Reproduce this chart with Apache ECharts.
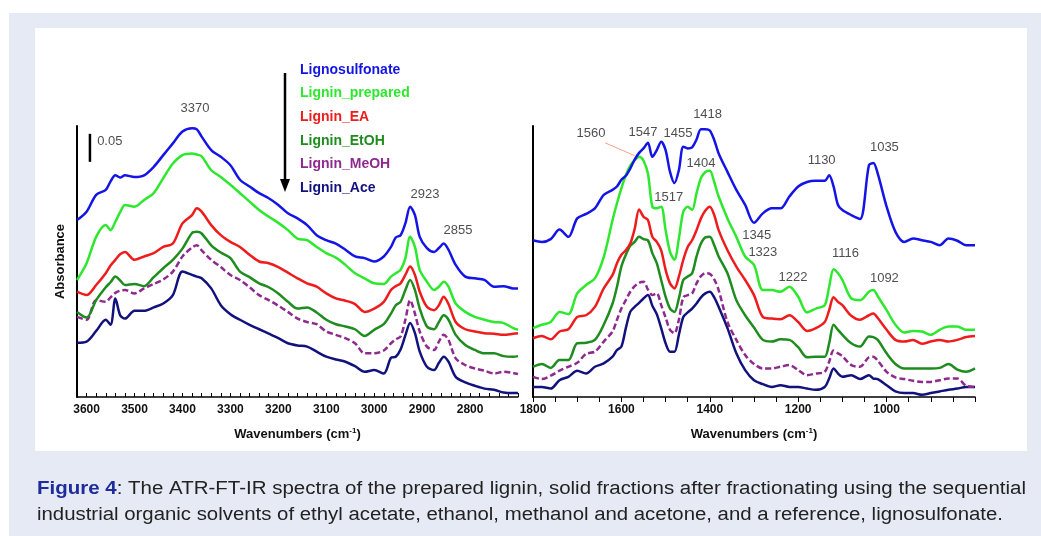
<!DOCTYPE html>
<html>
<head>
<meta charset="utf-8">
<script src="https://cdn.jsdelivr.net/npm/echarts@6.0.0/dist/echarts.min.js"></script>
<style>
  html, body { margin: 0; padding: 0; background: #fff; }
  #frame { position: absolute; left: 9px; top: 13px; width: 1032px; height: 523px; background: #e6eaf5; }
  #panel { position: absolute; left: 35px; top: 28px; width: 992px; height: 423px; background: #fff; }
  #chart { position: absolute; left: 0; top: 0; width: 1041px; height: 536px; }
</style>
</head>
<body>
<div id="frame"></div>
<div id="panel"></div>
<div id="chart"></div>
<script>
// samples, in the order of the key (top to bottom)
const sampleNames = ['Lignosulfonate', 'Lignin_prepared', 'Lignin_EA', 'Lignin_EtOH', 'Lignin_MeOH', 'Lignin_Ace'];
const sampleColors = ['#1414e6', '#2ee82e', '#ee1c1c', '#1e8c1e', '#8e2a8e', '#12127e'];

// O-H / C-H region, wavenumbers (cm-1)
const leftWn = [3620, 3600, 3580, 3560, 3550, 3540, 3530, 3520, 3500, 3480, 3460, 3440, 3420, 3400, 3380, 3370, 3360,
  3340, 3320, 3300, 3280, 3260, 3240, 3220, 3200, 3180, 3160, 3140, 3120, 3100, 3080, 3060, 3040, 3020, 3000,
  2980, 2965, 2955, 2945, 2935, 2925, 2915, 2905, 2890, 2875, 2865, 2855, 2845, 2830, 2810, 2790, 2770, 2750, 2730, 2710, 2700];
const leftLignosulfonate = [0.316, 0.331, 0.361, 0.370, 0.385, 0.396, 0.392, 0.396, 0.393, 0.396, 0.411, 0.432, 0.453, 0.474, 0.480, 0.478, 0.465,
  0.441, 0.429, 0.414, 0.388, 0.376, 0.364, 0.355, 0.343, 0.328, 0.319, 0.307, 0.289, 0.280, 0.274, 0.263, 0.251, 0.248, 0.242,
  0.251, 0.268, 0.285, 0.289, 0.310, 0.340, 0.325, 0.286, 0.266, 0.259, 0.266, 0.274, 0.263, 0.236, 0.215, 0.212, 0.209, 0.197, 0.198, 0.194, 0.194];
const leftPrepared = [0.209, 0.239, 0.286, 0.307, 0.298, 0.313, 0.330, 0.343, 0.340, 0.352, 0.364, 0.391, 0.417, 0.432, 0.435, 0.433, 0.430,
  0.405, 0.393, 0.379, 0.364, 0.349, 0.334, 0.322, 0.311, 0.298, 0.283, 0.280, 0.268, 0.257, 0.249, 0.236, 0.221, 0.212, 0.203,
  0.202, 0.215, 0.221, 0.227, 0.248, 0.286, 0.268, 0.227, 0.206, 0.191, 0.197, 0.206, 0.197, 0.167, 0.152, 0.143, 0.138, 0.134, 0.132, 0.123, 0.120];
const leftEA = [0.188, 0.182, 0.200, 0.221, 0.235, 0.245, 0.255, 0.259, 0.245, 0.251, 0.257, 0.268, 0.274, 0.310, 0.325, 0.337, 0.331,
  0.307, 0.289, 0.277, 0.268, 0.254, 0.242, 0.239, 0.232, 0.222, 0.212, 0.203, 0.197, 0.185, 0.176, 0.172, 0.166, 0.152, 0.158,
  0.170, 0.191, 0.198, 0.203, 0.218, 0.233, 0.218, 0.188, 0.161, 0.155, 0.164, 0.179, 0.166, 0.134, 0.121, 0.117, 0.114, 0.113, 0.111, 0.113, 0.114];
const leftEtOH = [0.152, 0.142, 0.173, 0.196, 0.205, 0.215, 0.208, 0.200, 0.202, 0.198, 0.214, 0.230, 0.245, 0.265, 0.293, 0.295, 0.292,
  0.271, 0.258, 0.248, 0.224, 0.214, 0.203, 0.196, 0.185, 0.170, 0.158, 0.160, 0.151, 0.138, 0.130, 0.126, 0.121, 0.109, 0.120,
  0.130, 0.149, 0.164, 0.170, 0.191, 0.209, 0.191, 0.158, 0.126, 0.121, 0.134, 0.146, 0.138, 0.111, 0.093, 0.084, 0.078, 0.078, 0.073, 0.072, 0.073];
const leftMeOH = [0.143, 0.138, 0.173, 0.170, 0.178, 0.186, 0.190, 0.191, 0.185, 0.194, 0.202, 0.210, 0.224, 0.251, 0.267, 0.271, 0.262,
  0.245, 0.232, 0.218, 0.209, 0.196, 0.182, 0.173, 0.163, 0.152, 0.140, 0.134, 0.130, 0.117, 0.111, 0.105, 0.096, 0.078, 0.078,
  0.083, 0.096, 0.103, 0.108, 0.138, 0.173, 0.149, 0.117, 0.090, 0.084, 0.099, 0.111, 0.102, 0.069, 0.057, 0.051, 0.047, 0.042, 0.045, 0.043, 0.041];
const leftAce = [0.097, 0.099, 0.118, 0.138, 0.129, 0.176, 0.146, 0.140, 0.154, 0.154, 0.160, 0.167, 0.182, 0.224, 0.218, 0.215, 0.212,
  0.194, 0.164, 0.148, 0.138, 0.129, 0.121, 0.113, 0.105, 0.096, 0.092, 0.090, 0.081, 0.072, 0.067, 0.063, 0.055, 0.045, 0.048,
  0.042, 0.070, 0.072, 0.085, 0.110, 0.132, 0.114, 0.081, 0.054, 0.048, 0.061, 0.072, 0.063, 0.036, 0.026, 0.020, 0.015, 0.013, 0.008, 0.007, 0.007];

// fingerprint region, wavenumbers (cm-1)
const rightWn = [1800, 1780, 1760, 1740, 1720, 1700, 1680, 1660, 1640, 1620, 1610, 1600, 1590, 1580, 1570, 1560, 1550, 1540, 1530, 1520,
  1510, 1500, 1490, 1480, 1470, 1460, 1450, 1440, 1430, 1420, 1410, 1400, 1390, 1380, 1360, 1340, 1320, 1300, 1280, 1260,
  1240, 1220, 1200, 1180, 1160, 1140, 1130, 1120, 1110, 1100, 1080, 1060, 1040, 1030, 1020, 1000, 980, 960, 940, 920,
  900, 880, 860, 840, 820, 800];
const rightLignosulfonate = [0.280, 0.277, 0.282, 0.299, 0.286, 0.319, 0.327, 0.337, 0.361, 0.370, 0.376, 0.388, 0.395, 0.408, 0.424, 0.436, 0.444, 0.454, 0.429, 0.441,
  0.456, 0.441, 0.402, 0.382, 0.405, 0.447, 0.444, 0.446, 0.460, 0.478, 0.478, 0.476, 0.459, 0.435, 0.402, 0.370, 0.343, 0.311, 0.328, 0.337,
  0.337, 0.358, 0.376, 0.384, 0.386, 0.386, 0.396, 0.376, 0.343, 0.334, 0.325, 0.318, 0.414, 0.418, 0.399, 0.340, 0.295, 0.277, 0.283, 0.280,
  0.277, 0.271, 0.283, 0.279, 0.271, 0.271];
const rightPrepared = [0.123, 0.129, 0.134, 0.152, 0.148, 0.185, 0.200, 0.212, 0.250, 0.316, 0.346, 0.373, 0.396, 0.413, 0.423, 0.429, 0.422, 0.399, 0.340, 0.337,
  0.340, 0.298, 0.259, 0.245, 0.283, 0.331, 0.340, 0.334, 0.364, 0.391, 0.402, 0.404, 0.384, 0.358, 0.319, 0.286, 0.251, 0.236, 0.191, 0.191,
  0.188, 0.197, 0.179, 0.151, 0.158, 0.164, 0.197, 0.228, 0.221, 0.209, 0.176, 0.173, 0.188, 0.191, 0.180, 0.155, 0.129, 0.115, 0.118, 0.117,
  0.111, 0.120, 0.126, 0.126, 0.120, 0.120];
const rightEA = [0.105, 0.109, 0.103, 0.117, 0.121, 0.143, 0.146, 0.161, 0.194, 0.218, 0.239, 0.254, 0.262, 0.274, 0.300, 0.335, 0.322, 0.316, 0.286, 0.277,
  0.262, 0.227, 0.203, 0.194, 0.215, 0.245, 0.268, 0.280, 0.298, 0.319, 0.333, 0.340, 0.325, 0.298, 0.262, 0.233, 0.209, 0.182, 0.143, 0.140,
  0.139, 0.146, 0.134, 0.118, 0.123, 0.134, 0.155, 0.178, 0.170, 0.164, 0.145, 0.138, 0.146, 0.149, 0.141, 0.120, 0.102, 0.099, 0.102, 0.095,
  0.099, 0.102, 0.099, 0.102, 0.107, 0.109];
const rightEtOH = [0.054, 0.059, 0.052, 0.066, 0.066, 0.096, 0.097, 0.102, 0.129, 0.167, 0.197, 0.233, 0.254, 0.270, 0.277, 0.286, 0.282, 0.280, 0.257, 0.239,
  0.209, 0.179, 0.158, 0.152, 0.176, 0.209, 0.215, 0.221, 0.251, 0.274, 0.285, 0.286, 0.271, 0.251, 0.221, 0.173, 0.146, 0.124, 0.102, 0.099,
  0.103, 0.102, 0.089, 0.071, 0.072, 0.072, 0.096, 0.129, 0.120, 0.111, 0.096, 0.090, 0.108, 0.107, 0.102, 0.078, 0.059, 0.051, 0.051, 0.051,
  0.051, 0.052, 0.059, 0.049, 0.045, 0.051];
const rightMeOH = [0.036, 0.032, 0.038, 0.047, 0.054, 0.061, 0.077, 0.081, 0.099, 0.117, 0.138, 0.158, 0.173, 0.188, 0.198, 0.204, 0.206, 0.192, 0.182, 0.185,
  0.164, 0.142, 0.120, 0.114, 0.138, 0.178, 0.182, 0.185, 0.203, 0.216, 0.221, 0.220, 0.210, 0.191, 0.134, 0.102, 0.075, 0.059, 0.051, 0.051,
  0.054, 0.057, 0.048, 0.039, 0.042, 0.045, 0.063, 0.083, 0.078, 0.073, 0.057, 0.054, 0.071, 0.072, 0.065, 0.045, 0.035, 0.032, 0.029, 0.027,
  0.027, 0.030, 0.033, 0.033, 0.020, 0.018];
const rightAce = [0.018, 0.018, 0.015, 0.030, 0.036, 0.047, 0.042, 0.054, 0.060, 0.072, 0.084, 0.090, 0.123, 0.152, 0.161, 0.168, 0.176, 0.182, 0.163, 0.148,
  0.123, 0.096, 0.081, 0.081, 0.111, 0.143, 0.151, 0.158, 0.167, 0.178, 0.185, 0.188, 0.178, 0.161, 0.123, 0.078, 0.048, 0.030, 0.023, 0.018,
  0.021, 0.018, 0.018, 0.015, 0.013, 0.018, 0.033, 0.051, 0.042, 0.036, 0.039, 0.032, 0.039, 0.033, 0.032, 0.021, 0.010, 0.007, 0.007, 0.004,
  0.007, 0.010, 0.013, 0.015, 0.018, 0.018];

// peak labels (text, wavenumber, absorbance where the text sits)
const leftPeakText = ['3370', '2923', '2855'];
const leftPeakWn = [3374, 2894, 2825];
const leftPeakAbs = [0.516, 0.361, 0.298];
const rightPeakText = ['1560', '1547', '1455', '1418', '1404', '1517', '1130', '1035', '1345', '1323', '1116', '1222', '1092'];
const rightPeakWn = [1669, 1551, 1472, 1405, 1420, 1493, 1147, 1005, 1294, 1280, 1093, 1212, 1005];
const rightPeakAbs = [0.471, 0.473, 0.471, 0.505, 0.418, 0.357, 0.423, 0.445, 0.289, 0.259, 0.257, 0.214, 0.211];
// 1560 leader line, and the 0.05 scale bar
const leaderWn = [1637, 1570];
const leaderAbs = [0.454, 0.431];
const scaleBarWn = [3593, 3593];
const scaleBarAbs = [0.470, 0.420];

const captionLead = 'Figure 4';
const captionLine1 = ': The ATR-FT-IR spectra of the prepared lignin, solid fractions after fractionating using the sequential';
const captionLine2 = 'industrial organic solvents of ethyl acetate, ethanol, methanol and acetone, and a reference, lignosulfonate.';

const FONT = 'Liberation Sans';
const leftData = [leftLignosulfonate, leftPrepared, leftEA, leftEtOH, leftMeOH, leftAce];
const rightData = [rightLignosulfonate, rightPrepared, rightEA, rightEtOH, rightMeOH, rightAce];

function pairs(xs, ys) {
  return xs.map((x, i) => [x, ys[i]]);
}

const series = [];
sampleNames.forEach((name, k) => {
  [[leftWn, leftData[k], 0], [rightWn, rightData[k], 1]].forEach(([wn, vals, gi]) => {
    series.push({
      name: name,
      type: 'line',
      xAxisIndex: gi,
      yAxisIndex: gi,
      data: pairs(wn, vals),
      symbol: 'none',
      smooth: 0.3,
      silent: true,
      z: 10 - k,
      itemStyle: { color: sampleColors[k] },
      lineStyle: { color: sampleColors[k], width: 2.5, type: name === 'Lignin_MeOH' ? [6, 3] : 'solid' }
    });
  });
});

function labelSeries(gi, texts, wn, abs, align) {
  return {
    type: 'scatter',
    xAxisIndex: gi,
    yAxisIndex: gi,
    symbolSize: 1,
    clip: false,
    silent: true,
    itemStyle: { color: 'rgba(0,0,0,0)' },
    data: texts.map((t, i) => ({ name: t, value: [wn[i], abs[i]] })),
    label: { show: true, position: 'inside', align: align || 'center', formatter: '{b}', color: '#222', fontSize: 13, fontFamily: FONT }
  };
}
series.push(labelSeries(0, leftPeakText, leftPeakWn, leftPeakAbs));
series.push(labelSeries(1, rightPeakText, rightPeakWn, rightPeakAbs));
series.push(labelSeries(0, ['0.05'], [3578], [0.457], 'left'));
series.push({
  type: 'line', xAxisIndex: 1, yAxisIndex: 1, symbol: 'none', silent: true, clip: false,
  data: pairs(leaderWn, leaderAbs), lineStyle: { color: '#f2a488', width: 1 }
});
series.push({
  type: 'line', xAxisIndex: 0, yAxisIndex: 0, symbol: 'none', silent: true, clip: false,
  data: pairs(scaleBarWn, scaleBarAbs), lineStyle: { color: '#000', width: 2.5 }
});

const axisName = '{t|Wavenumbers (cm}{s|-1}{t|)}';
const axisNameStyle = {
  rich: {
    t: { fontFamily: FONT, fontWeight: 'bold', fontSize: 13, color: '#111' },
    s: { fontFamily: FONT, fontWeight: 'bold', fontSize: 8, color: '#111', verticalAlign: 'top', padding: [0, 0, 6, 0] }
  }
};

function xAxis(gi, min, max, step, show) {
  return {
    gridIndex: gi, type: 'value', min: min, max: max, interval: step, inverse: true,
    axisLine: { show: true, onZero: false, lineStyle: { color: '#000', width: 1.5 } },
    axisTick: { show: true, inside: gi === 0, length: gi === 0 ? 4 : 5, lineStyle: { color: '#000', width: 1 } },
    axisLabel: {
      formatter: v => show(Math.round(v)) ? String(Math.round(v)) : '',
      color: '#111', fontWeight: 'bold', fontSize: 12, fontFamily: FONT, margin: 7
    },
    splitLine: { show: false },
    name: axisName, nameLocation: 'middle', nameGap: 30, nameTextStyle: axisNameStyle
  };
}

function yAxis(gi, name) {
  return {
    gridIndex: gi, type: 'value', min: 0, max: 0.484,
    axisLine: { show: true, lineStyle: { color: '#000', width: 2 } },
    axisTick: { show: false },
    axisLabel: { show: false },
    splitLine: { show: false },
    name: name, nameLocation: 'middle', nameGap: 10,
    nameTextStyle: { fontFamily: FONT, fontWeight: 'bold', fontSize: 13, color: '#111' }
  };
}

// caption: stretch each line to the width it has in the figure
const ctx = document.createElement('canvas').getContext('2d');
function textWidth(t, weight, size) {
  ctx.font = weight + ' ' + size + 'px "' + FONT + '"';
  return ctx.measureText(t).width;
}
const capSize = 18;
const line1W = textWidth(captionLead, 'bold', capSize) + textWidth(captionLine1, 'normal', capSize);
const line2W = textWidth(captionLine2, 'normal', capSize);

const chart = echarts.init(document.getElementById('chart'));
chart.setOption({
  animation: false,
  textStyle: { fontFamily: FONT },
  grid: [
    { left: 77, top: 126, width: 441, height: 271 },
    { left: 533, top: 126, width: 442, height: 271 }
  ],
  xAxis: [
    xAxis(0, 2700, 3620, 20, v => v % 100 === 0 && v >= 2800 && v <= 3600),
    xAxis(1, 800, 1800, 50, v => v % 200 === 0 && v >= 1000)
  ],
  yAxis: [yAxis(0, 'Absorbance'), yAxis(1, '')],
  legend: {
    data: sampleNames.map((n, k) => ({ name: n, textStyle: { color: sampleColors[k] } })),
    orient: 'vertical', left: 289, top: 58, itemWidth: 0, itemHeight: 0, itemGap: 9.6,
    selectedMode: false,
    textStyle: { fontFamily: FONT, fontWeight: 'bold', fontSize: 14 }
  },
  graphic: [
    { type: 'line', shape: { x1: 285, y1: 73, x2: 285, y2: 181 }, style: { stroke: '#000', lineWidth: 2.5 } },
    { type: 'polygon', shape: { points: [[280, 179], [290, 179], [285, 192]] }, style: { fill: '#000' } },
    {
      type: 'text', x: 37, y: 489, scaleX: 989 / line1W,
      style: {
        text: '{b|' + captionLead + '}' + captionLine1,
        fill: '#222', fontFamily: FONT, fontSize: capSize, verticalAlign: 'middle',
        rich: { b: { fill: '#1f2c9c', fontFamily: FONT, fontWeight: 'bold', fontSize: capSize } }
      }
    },
    {
      type: 'text', x: 37, y: 515, scaleX: 966 / line2W,
      style: { text: captionLine2, fill: '#222', fontFamily: FONT, fontSize: capSize, verticalAlign: 'middle' }
    }
  ],
  series: series
});
</script>
</body>
</html>
